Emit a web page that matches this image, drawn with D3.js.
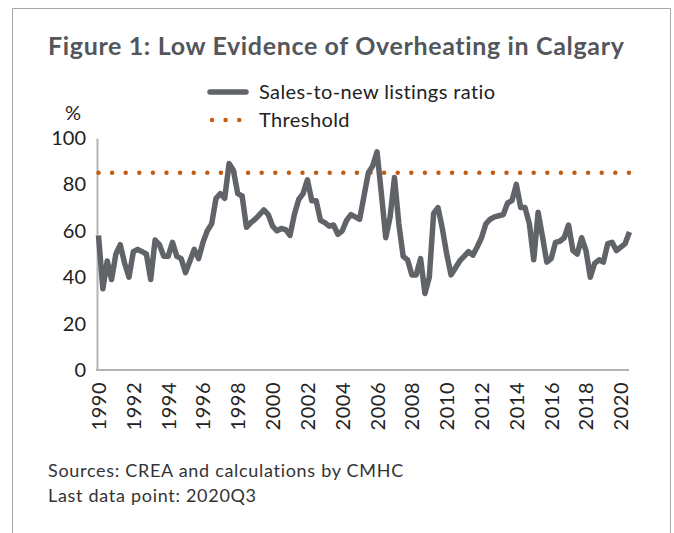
<!DOCTYPE html>
<html lang="en">
<head>
<meta charset="UTF-8">
<script src="https://d3js.org/d3.v7.min.js"></script>
<style>
  body { margin: 0; background: #fff; }
  text { font-family: Lato, "Open Sans", sans-serif; }
</style>
</head>
<body>
<svg id="chart" width="674" height="533"></svg>
<script>
// quarterly sales-to-new listings ratio, 1990Q1 .. 2020Q3
const years = d3.range(1990, 2021);
const quarters = years.flatMap(y => ["Q1", "Q2", "Q3", "Q4"].map(q => y + q)).slice(0, 123);
const ratio = [
  58, 35, 47, 39, 50, 54, 46, 40, 51, 52, 51, 50, 39, 56, 54, 49, 49, 55, 49, 48,
  42, 47, 52, 48, 55, 60, 63, 74, 76, 74, 89, 86, 76, 75, 61.5, 63.5, 65, 67, 69, 67,
  62, 60, 61, 60.5, 58, 67, 73.5, 76, 82, 73, 73, 64.5, 63.5, 62, 62.5, 58.5, 60, 64.5, 67, 66,
  65, 75, 85, 88, 94, 76, 57, 66, 83, 63, 49, 47.5, 41, 41, 48, 33, 40, 67.5, 70, 61,
  50, 41, 44, 47, 49, 51, 49.5, 53, 57, 63, 65, 66, 66.5, 67, 72, 73, 80, 70, 70, 63,
  47.5, 68, 57.5, 46.5, 48, 55, 55.5, 57, 62.5, 51.5, 50, 57, 51.5, 40, 46, 47.5, 46.5, 54.5, 55, 51.5,
  53, 54.5, 59.5
];
const threshold = 85;
const yTicks = [0, 20, 40, 60, 80, 100];
const xTickLabels = ["1990", "1992", "1994", "1996", "1998", "2000", "2002", "2004",
  "2006", "2008", "2010", "2012", "2014", "2016", "2018", "2020"];

const svg = d3.select("#chart");
const lineColor = "#606368";
const threshColor = "#c55a11";
const axisColor = "#b4b4b6";

// frame
svg.append("path")
  .attr("d", "M12.5,540 V8.5 H670.5 V540")
  .attr("fill", "none")
  .attr("stroke", "#a6a6a6")
  .attr("stroke-width", 1);

svg.append("text")
  .attr("x", 48).attr("y", 55)
  .attr("fill", "#53565a")
  .style("font-size", "25px")
  .style("font-weight", "bold")
  .style("letter-spacing", "0.65px")
  .text("Figure 1: Low Evidence of Overheating in Calgary");

const x = d3.scalePoint().domain(quarters).range([98.5, 629.5]);
const y = d3.scaleLinear().domain([0, 100]).range([370, 138]);

// axes
const yAxis = svg.append("g")
  .attr("transform", "translate(97,0)")
  .call(d3.axisLeft(y).tickValues(yTicks).tickSize(0).tickPadding(11));
yAxis.select(".domain").attr("stroke", axisColor).attr("stroke-width", 2);
yAxis.selectAll("text").style("font-size", "20px").attr("fill", "#222")
  .style("font-family", "Lato, sans-serif");

const xAxis = svg.append("g")
  .attr("transform", "translate(0,370)")
  .call(d3.axisBottom(x)
    .tickValues(xTickLabels.map(t => t + "Q1"))
    .tickFormat(d => d.slice(0, 4))
    .tickSize(0));
xAxis.select(".domain").attr("d", `M96,0H629`).attr("stroke", axisColor).attr("stroke-width", 2);
xAxis.selectAll("text")
  .style("font-size", "20px").attr("fill", "#222")
  .style("font-family", "Lato, sans-serif")
  .style("letter-spacing", "0.5px")
  .attr("transform", "rotate(-90)")
  .attr("text-anchor", "end")
  .attr("x", -12).attr("y", 0).attr("dy", "0.35em");

svg.append("text")
  .attr("x", 73).attr("y", 120)
  .attr("text-anchor", "middle")
  .attr("fill", "#222")
  .style("font-size", "20px")
  .text("%");

// threshold
svg.append("line")
  .attr("x1", x(quarters[0])).attr("x2", x(quarters[quarters.length - 1]) + 3)
  .attr("y1", y(threshold)).attr("y2", y(threshold))
  .attr("stroke", threshColor)
  .attr("stroke-width", 4.5)
  .attr("stroke-linecap", "round")
  .attr("stroke-dasharray", "0 13.6");

// series
const line = d3.line()
  .x((d, i) => x(quarters[i]))
  .y(d => y(d));
svg.append("path")
  .datum(ratio)
  .attr("d", line)
  .attr("fill", "none")
  .attr("stroke", lineColor)
  .attr("stroke-width", 5.5)
  .attr("stroke-linejoin", "round");

// legend
const legend = svg.append("g");
legend.append("line")
  .attr("x1", 210).attr("x2", 246).attr("y1", 92).attr("y2", 92)
  .attr("stroke", lineColor).attr("stroke-width", 5.5).attr("stroke-linecap", "round");
legend.append("text")
  .attr("x", 259).attr("y", 99)
  .attr("fill", "#222").style("font-size", "20px")
  .style("letter-spacing", "0.4px")
  .text("Sales-to-new listings ratio");
legend.append("line")
  .attr("x1", 212).attr("x2", 246).attr("y1", 120).attr("y2", 120)
  .attr("stroke", threshColor).attr("stroke-width", 4.5)
  .attr("stroke-linecap", "round").attr("stroke-dasharray", "0 13.6");
legend.append("text")
  .attr("x", 259).attr("y", 127)
  .attr("fill", "#222").style("font-size", "20px")
  .style("letter-spacing", "0.4px")
  .text("Threshold");

// notes
svg.append("text")
  .attr("x", 48).attr("y", 477)
  .attr("fill", "#333").style("font-size", "18px")
  .style("letter-spacing", "0.7px")
  .text("Sources: CREA and calculations by CMHC");
svg.append("text")
  .attr("x", 48).attr("y", 502)
  .attr("fill", "#333").style("font-size", "18px")
  .style("letter-spacing", "0.7px")
  .text("Last data point: 2020Q3");
</script>
</body>
</html>
